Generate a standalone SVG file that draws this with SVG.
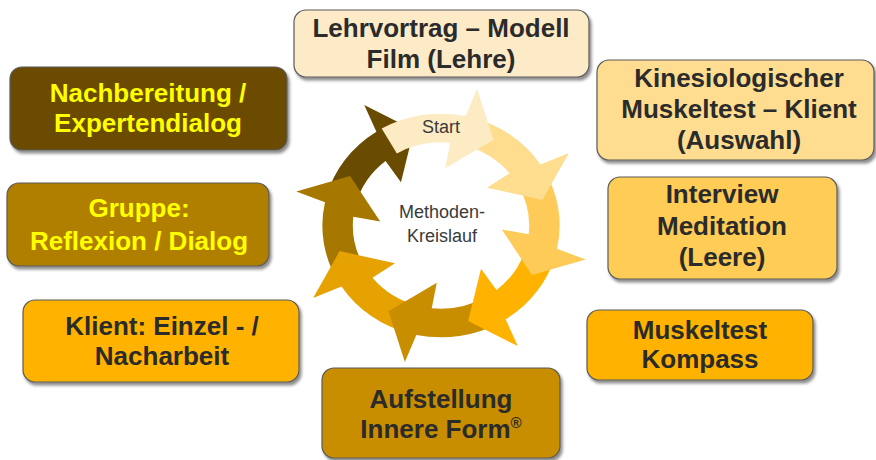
<svg xmlns="http://www.w3.org/2000/svg" xmlns:xlink="http://www.w3.org/1999/xlink" width="876" height="460" viewBox="0 0 876 460">
<style>
.box{stroke:#5a5a5a;stroke-width:1.2;filter:url(#sh)}
.t{font-family:"Liberation Sans",Arial,sans-serif;font-weight:bold;font-size:26px;text-anchor:middle;fill:#2b2b2b}
.y{fill:#ffff00}
.s{font-family:"Liberation Sans",Arial,sans-serif;font-size:18px;text-anchor:middle;fill:#3a3a3a}
</style>
<defs>
<filter id="sh" x="-10%" y="-10%" width="125%" height="130%">
<feDropShadow dx="2" dy="3" stdDeviation="1.8" flood-color="#000" flood-opacity="0.45"/>
</filter>
<path id="seg" d="M -56.5,-97.9 A 113 113 0 0 1 23.5,-110.5 L 34.4,-137.8 L 50,-86.6 L 4.0,-57.9 L 8.8,-83.5 A 84 84 0 0 0 -42,-72.7 Z"/>
</defs>
<rect width="876" height="460" fill="#ffffff"/>

<g id="connectors" transform="translate(441,225.5) scale(1.05,0.99)">
<use xlink:href="#seg" transform="rotate(315)" fill="#6A4C00"/>
<use xlink:href="#seg" transform="rotate(270)" fill="#A67800"/>
<use xlink:href="#seg" transform="rotate(225)" fill="#E6A200"/>
<use xlink:href="#seg" transform="rotate(180)" fill="#C88E00"/>
<use xlink:href="#seg" transform="rotate(135)" fill="#FFB200"/>
<use xlink:href="#seg" transform="rotate(90)" fill="#FFCB58"/>
<use xlink:href="#seg" transform="rotate(45)" fill="#FEDD8E"/>
<use xlink:href="#seg" fill="#FDEBC3"/>
</g>
<g id="center">
<text class="s" x="441" y="133">Start</text>
<text class="s" x="442" y="218">Methoden-</text>
<text class="s" x="442" y="242">Kreislauf</text>
</g>

<g id="n-lehre">
<rect class="box" x="294" y="10" width="295" height="67" rx="12" fill="#FDEBC8"/>
<text class="t" x="441" y="37">Lehrvortrag – Modell</text>
<text class="t" x="441" y="68">Film (Lehre)</text>
</g>
<g id="n-kinesio">
<rect class="box" x="597" y="60" width="277" height="100" rx="12" fill="#FEDD90"/>
<text class="t" x="739" y="87">Kinesiologischer</text>
<text class="t" x="739" y="118">Muskeltest – Klient</text>
<text class="t" x="739" y="149">(Auswahl)</text>
</g>
<g id="n-interview">
<rect class="box" x="608" y="177" width="229" height="102" rx="12" fill="#FFCC55"/>
<text class="t" x="722" y="203">Interview</text>
<text class="t" x="722" y="235">Meditation</text>
<text class="t" x="722" y="266">(Leere)</text>
</g>
<g id="n-muskeltest">
<rect class="box" x="587" y="310" width="226" height="70" rx="12" fill="#FFB300"/>
<text class="t" x="700" y="339">Muskeltest</text>
<text class="t" x="700" y="368">Kompass</text>
</g>
<g id="n-aufstellung">
<rect class="box" x="322" y="368" width="238" height="90" rx="12" fill="#C88E00"/>
<text class="t" x="441" y="408">Aufstellung</text>
<text class="t" x="441" y="438">Innere Form<tspan font-size="15" dy="-10">®</tspan></text>
</g>
<g id="n-klient">
<rect class="box" x="23" y="300" width="276" height="82" rx="12" fill="#FFB300"/>
<text class="t" x="162" y="335">Klient: Einzel - /</text>
<text class="t" x="162" y="365">Nacharbeit</text>
</g>
<g id="n-gruppe">
<rect class="box" x="7" y="183" width="262" height="83" rx="12" fill="#B07F00"/>
<text class="t y" x="139" y="217">Gruppe:</text>
<text class="t y" x="139" y="250">Reflexion / Dialog</text>
</g>
<g id="n-nachbereitung">
<rect class="box" x="10" y="67" width="277" height="83" rx="12" fill="#6A4C00"/>
<text class="t y" x="148" y="102">Nachbereitung /</text>
<text class="t y" x="148" y="132">Expertendialog</text>
</g>
</svg>
